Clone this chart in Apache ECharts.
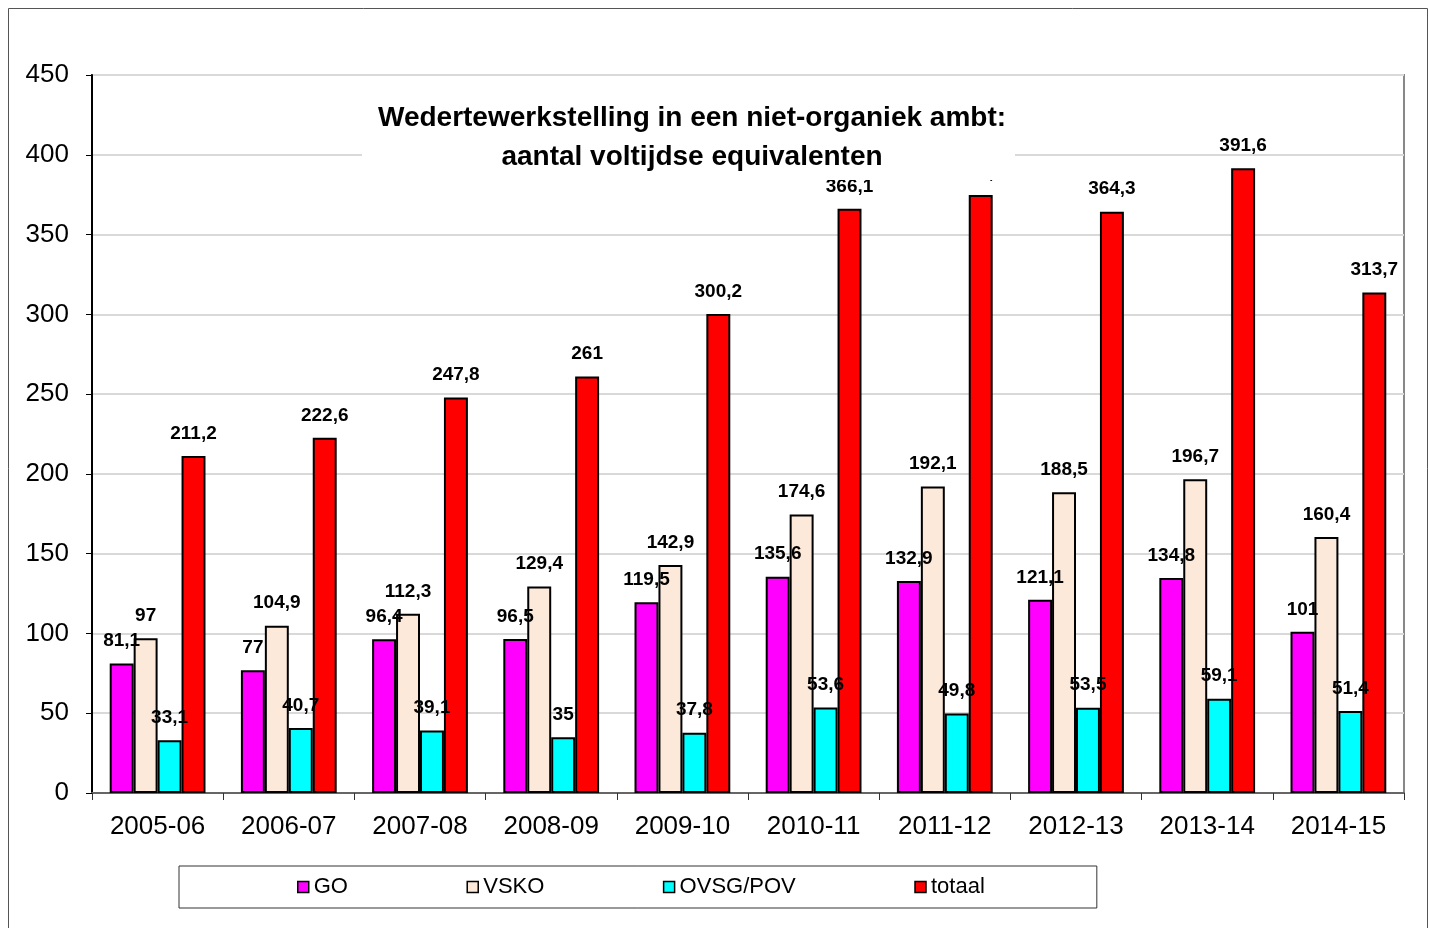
<!DOCTYPE html>
<html>
<head>
<meta charset="utf-8">
<script src="https://cdn.jsdelivr.net/npm/echarts@6/dist/echarts.min.js"></script>
<style>
  html, body { margin: 0; padding: 0; background: #fff; }
  #chart { width: 1429px; height: 928px; }
</style>
</head>
<body>
<div id="chart"></div>
<script>
const years = ['2005-06', '2006-07', '2007-08', '2008-09', '2009-10', '2010-11', '2011-12', '2012-13', '2013-14', '2014-15']
const go = [81.1, 77, 96.4, 96.5, 119.5, 135.6, 132.9, 121.1, 134.8, 101]
const vsko = [97, 104.9, 112.3, 129.4, 142.9, 174.6, 192.1, 188.5, 196.7, 160.4]
const ovsg = [33.1, 40.7, 39.1, 35, 37.8, 53.6, 49.8, 53.5, 59.1, 51.4]
const totaal = [211.2, 222.6, 247.8, 261, 300.2, 366.1, 374.8, 364.3, 391.6, 313.7]

const chart = echarts.init(document.getElementById('chart'))

// excel style: comma as decimal separator
const comma = (p) => String(p.value).replace('.', ',')

function barSeries(name, data, color) {
  return {
    name: name,
    type: 'bar',
    data: data,
    barGap: '0%',
    barCategoryGap: '27%',
    itemStyle: { color: color, borderColor: '#000', borderWidth: 2 },
    label: {
      show: true,
      position: 'top',
      distance: 13,
      formatter: comma,
      color: '#000',
      fontFamily: 'Liberation Sans',
      fontWeight: 'bold',
      fontSize: 19
    }
  }
}

const option = {
  animation: false,
  backgroundColor: '#fff',
  textStyle: { fontFamily: 'Liberation Sans' },
  title: {
    text: 'Wedertewerkstelling in een niet-organiek ambt:\naantal voltijdse equivalenten',
    left: 687,
    top: 94,
    textAlign: 'center',
    z: 20,
    textStyle: {
      fontFamily: 'Liberation Sans',
      fontWeight: 'bold',
      fontSize: 28,
      lineHeight: 39,
      color: '#000'
    }
  },
  graphic: [
    {
      type: 'rect',
      z: 15,
      shape: { x: 362, y: 96, width: 653, height: 84 },
      style: { fill: '#fff' }
    },
    {
      type: 'rect',
      z: 0,
      silent: true,
      shape: { x: 8.5, y: 8.5, width: 1419, height: 930 },
      style: { fill: 'none', stroke: '#555', lineWidth: 1 }
    }
  ],
  legend: {
    left: 179,
    top: 866,
    padding: [10, 112, 10, 118],
    itemGap: 118.5,
    itemWidth: 11,
    itemHeight: 11,
    borderColor: '#333',
    borderWidth: 1,
    icon: 'rect',
    itemStyle: { borderColor: '#000', borderWidth: 1.5 },
    textStyle: { fontFamily: 'Liberation Sans', fontSize: 22, color: '#000' }
  },
  grid: {
    left: 92,
    right: 25,
    top: 75,
    bottom: 135,
    show: true,
    borderColor: '#888',
    borderWidth: 2
  },
  xAxis: {
    type: 'category',
    data: years,
    axisLine: { lineStyle: { color: '#666', width: 2 } },
    axisTick: { show: true, length: 7, lineStyle: { color: '#333' } },
    axisLabel: { color: '#000', fontSize: 26, margin: 21, fontFamily: 'Liberation Sans' }
  },
  yAxis: {
    type: 'value',
    min: 0,
    max: 450,
    interval: 50,
    axisLine: { show: true, lineStyle: { color: '#000', width: 2 } },
    axisTick: { show: true, length: 6, lineStyle: { color: '#000' } },
    axisLabel: { color: '#000', fontSize: 26, margin: 23, fontFamily: 'Liberation Sans' },
    splitLine: { lineStyle: { color: '#d9d9d9', width: 2 } }
  },
  series: [
    barSeries('GO', go, '#ff00ff'),
    barSeries('VSKO', vsko, '#fde9d9'),
    barSeries('OVSG/POV', ovsg, '#00ffff'),
    barSeries('totaal', totaal, '#ff0000')
  ]
}

chart.setOption(option)
</script>
</body>
</html>
